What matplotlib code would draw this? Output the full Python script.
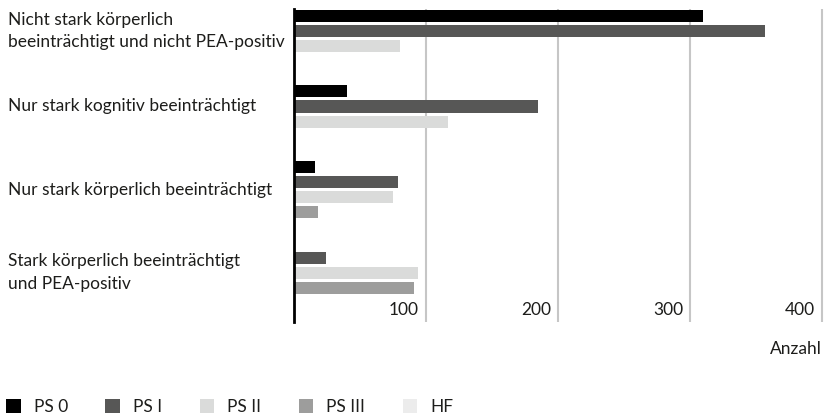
import matplotlib
matplotlib.use("Agg")
import matplotlib.pyplot as plt
from matplotlib.patches import Patch
from matplotlib.transforms import blended_transform_factory, offset_copy

plt.rcParams['font.family'] = ['Lato', 'DejaVu Sans']

# ============ Data ============
categories = [
    "Nicht stark körperlich\nbeeinträchtigt und nicht PEA-positiv",
    "Nur stark kognitiv beeinträchtigt",
    "Nur stark körperlich beeinträchtigt",
    "Stark körperlich beeinträchtigt\nund PEA-positiv",
]
series_names = ["PS 0", "PS I", "PS II", "PS III", "HF"]
ps0 = [310, 40, 16, 0]
ps1 = [357, 185, 79, 24]
ps2 = [80, 117, 75, 94]
ps3 = [0, 0, 18, 91]
hf = [0, 0, 0, 0]
series_values = [ps0, ps1, ps2, ps3, hf]
x_ticks = [100, 200, 300, 400]

colors = ["#000000", "#575756", "#dadbda", "#9d9d9c", "#ececec"]
text_color = "#1d1d1b"
n_ser = len(series_names)
FS = 12.5

# ============ Figure ============
fig = plt.figure(figsize=(8.28, 4.18), dpi=100)
ax = fig.add_axes([294 / 828, 1 - 322 / 418, 532 / 828, (322 - 9) / 418])

for j, (vals, c) in enumerate(zip(series_values, colors)):
    ys = [i * n_ser + j for i in range(len(categories))]
    ax.barh(ys, vals, height=0.8, color=c, zorder=3)

ax.set_xlim(0, 403)
ax.set_ylim(len(categories) * n_ser - 1 + 1.26, -0.45)

for v in x_ticks:
    ax.axvline(v, color="#c6c6c6", lw=1.5, zorder=1)

for s in ["top", "right", "bottom"]:
    ax.spines[s].set_visible(False)
ax.spines["left"].set_color("black")
ax.spines["left"].set_linewidth(2)
ax.spines["left"].set_zorder(4)
ax.set_xticks([])
ax.set_yticks([])

# tick labels sit inside the plot, left of each gridline
trans = blended_transform_factory(ax.transData, ax.transAxes)
for v in x_ticks:
    t = offset_copy(trans, fig=fig, x=-7, y=4, units="dots")
    ax.text(v, 0, str(v), transform=t, ha="right", va="bottom",
            fontsize=FS, color=text_color)

# category labels centred on the bars that are present
for i, cat in enumerate(categories):
    present = [i * n_ser + j for j in range(n_ser) if series_values[j][i] > 0]
    yc = sum(present) / len(present)
    ax.text(8 / 828, yc, cat, transform=blended_transform_factory(fig.transFigure, ax.transData),
            ha="left", va="center", fontsize=FS, color=text_color, linespacing=1.5)

fig.text(822 / 828, 1 - 349 / 418, "Anzahl", ha="right", va="center",
         fontsize=FS, color=text_color)

handles = [Patch(facecolor=c, edgecolor="none") for c in colors]
fig.legend(handles, series_names, loc="center left", bbox_to_anchor=(6 / 828, 1 - 407 / 418),
           ncol=n_ser, frameon=False, fontsize=FS, handlelength=0.85, handleheight=0.85,
           handletextpad=0.75, columnspacing=2.15, borderaxespad=0, borderpad=0,
           labelcolor=text_color)

fig.savefig("out.png", dpi=100)
